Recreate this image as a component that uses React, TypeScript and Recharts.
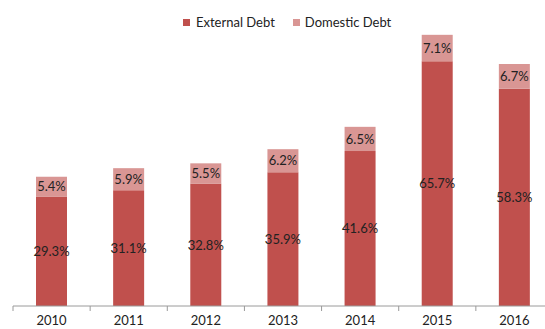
import React from "react";
import { BarChart, Bar, XAxis, YAxis, Legend, LabelList } from "recharts";

const years = ["2010", "2011", "2012", "2013", "2014", "2015", "2016"];
const externalDebt = [29.3, 31.1, 32.8, 35.9, 41.6, 65.7, 58.3];
const domesticDebt = [5.4, 5.9, 5.5, 6.2, 6.5, 7.1, 6.7];

const data = years.map((y, i) => ({ year: y, external: externalDebt[i], domestic: domesticDebt[i] }));

const CHART_W = 560;
const CHART_H = 329;
const MARGIN = { top: 8, right: 7, left: 13, bottom: 0 };
const BAND = (CHART_W - MARGIN.left - MARGIN.right) / years.length;
const FONT = "Lato, 'Liberation Sans', sans-serif";
const EXT_COLOR = "#C0504D";
const DOM_COLOR = "#D99694";

const Tick = (props: any) => {
  const { x, y, payload, index } = props;
  const axisY = y - 13;
  const lines = [
    <line key="l" x1={x - BAND / 2} x2={x - BAND / 2} y1={axisY} y2={axisY + 5} stroke="#9a9a9a" strokeWidth={1} />,
  ];
  if (index === years.length - 1) {
    lines.push(<line key="r" x1={x + BAND / 2} x2={x + BAND / 2} y1={axisY} y2={axisY + 5} stroke="#9a9a9a" strokeWidth={1} />);
  }
  return (
    <g>
      {lines}
      <text x={x} y={y - 3} dy="0.71em" textAnchor="middle" fill="#222" fontSize={13} fontFamily={FONT}>
        {payload.value}
      </text>
    </g>
  );
};

const LegendContent = () => (
  <div style={{ display: "flex", alignItems: "center", fontFamily: FONT, fontSize: 13, color: "#222", whiteSpace: "nowrap" }}>
    <span style={{ display: "inline-block", width: 7, height: 7, background: EXT_COLOR, marginRight: 6 }} />
    <span style={{ marginRight: 18 }}>External Debt</span>
    <span style={{ display: "inline-block", width: 7, height: 7, background: DOM_COLOR, marginRight: 5 }} />
    <span>Domestic Debt</span>
  </div>
);

const fmt = (v: any) => `${v}%`;

export default function App() {
  return (
    <div style={{ position: "absolute", left: 0, top: 0, width: 545, height: 329, overflow: "hidden", background: "#fff" }}>
      <BarChart width={CHART_W} height={CHART_H} data={data} margin={MARGIN}>
        <YAxis hide domain={[0, 80]} />
        <XAxis
          dataKey="year"
          axisLine={{ stroke: "#9a9a9a" }}
          tickLine={false}
          tickSize={5}
          tickMargin={8}
          height={23}
          interval={0}
          tick={<Tick />}
        />
        <Legend
          verticalAlign="middle"
          content={<LegendContent />}
          wrapperStyle={{ top: 14, left: 183, width: "auto" }}
        />
        <Bar dataKey="external" stackId="a" fill={EXT_COLOR} barSize={31} isAnimationActive={false}>
          <LabelList dataKey="external" position="center" formatter={fmt} fill="#222" fontSize={13} fontFamily={FONT} />
        </Bar>
        <Bar dataKey="domestic" stackId="a" fill={DOM_COLOR} barSize={31} isAnimationActive={false}>
          <LabelList dataKey="domestic" position="center" formatter={fmt} fill="#222" fontSize={13} fontFamily={FONT} />
        </Bar>
      </BarChart>
    </div>
  );
}
